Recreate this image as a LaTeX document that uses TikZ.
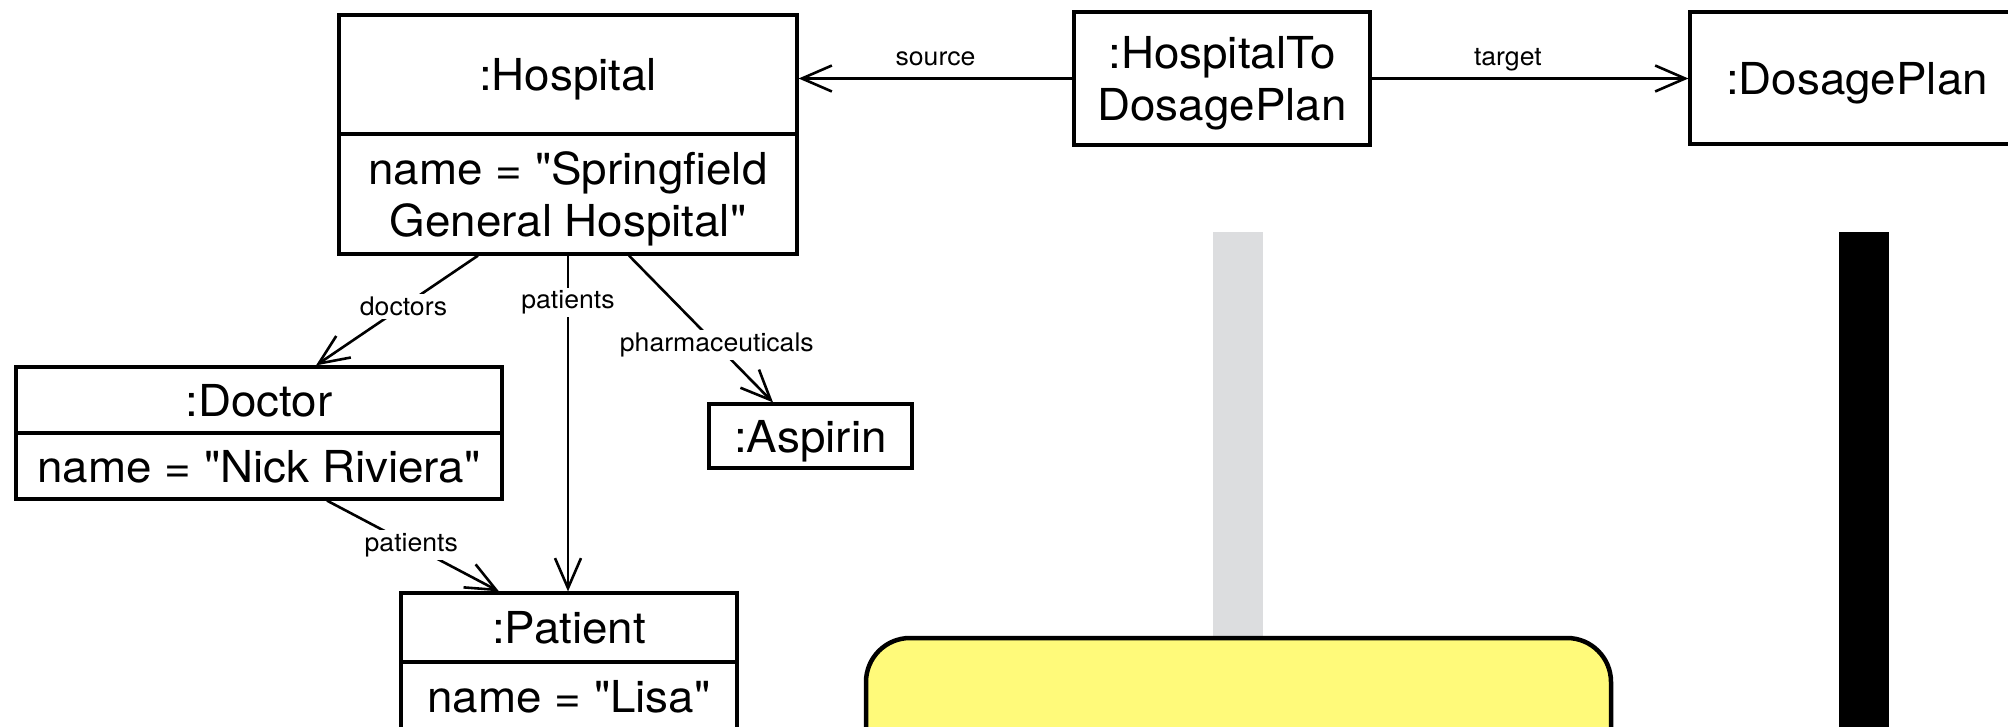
\documentclass[tikz,border=0pt]{standalone}
\usepackage{fontspec}
\setmainfont{TeX Gyre Heros}[Ligatures=TeXOff, FakeStretch=1.04]
\usetikzlibrary{arrows.meta}

\definecolor{bargray}{RGB}{220,221,223}
\definecolor{noteyellow}{RGB}{255,250,122}

\tikzset{
	objbox/.style={draw=black, line width=3.2pt, font=\fontsize{44}{52}\selectfont, align=center, inner sep=0pt, text depth=0pt},
	assoc/.style={-{Straight Barb[length=30pt,width=26pt]}, line width=2.6pt},
	rolelabel/.style={font=\fontsize{25.6}{30}\selectfont, fill=white, inner sep=3pt},
	notebox/.style={draw=black, line width=4.5pt, fill=noteyellow, rounded corners=44pt},
}

\begin{document}
\begin{tikzpicture}[x=1pt, y=-1pt]
	\useasboundingbox (0,0) rectangle (2008,727);
	
	\fill[bargray] (1213,232) rectangle (1263,700);
	\fill[black] (1839,232) rectangle (1889,760);
	\node[notebox, minimum width=745pt, minimum height=184pt] (note) at (1238.5,730) {};
	
	\node[objbox, minimum width=458pt, minimum height=119pt] (hospital) at (568,74.5) {:Hospital};
	\node[objbox, minimum width=458pt, minimum height=120pt] (hospitalname) at (568,194) {name = "Springfield\\General Hospital"};
	\node[objbox, minimum width=296pt, minimum height=133pt] (link) at (1222,78.5) {:HospitalTo\\DosagePlan};
	\node[objbox, minimum width=334pt, minimum height=132pt] (dosageplan) at (1857,78) {:DosagePlan};
	\node[objbox, minimum width=486pt, minimum height=66pt] (doctor) at (259,400) {:Doctor};
	\node[objbox, minimum width=486pt, minimum height=66pt] (doctorname) at (259,466) {name = "Nick Riviera"};
	\node[objbox, minimum width=203pt, minimum height=64pt] (aspirin) at (810.5,436) {:Aspirin};
	\node[objbox, minimum width=336pt, minimum height=69pt] (patient) at (569,627.5) {:Patient};
	\node[objbox, minimum width=336pt, minimum height=69pt] (patientname) at (569,696.5) {name = "Lisa"};
	
	\path[assoc] (link.west) edge node[rolelabel, above, fill=none, inner sep=12pt, text depth=0pt] {source} (link.west -| hospital.east);
	\path[assoc] (link.east) edge node[rolelabel, above, pos=0.43, fill=none, inner sep=12pt, text depth=0pt] {target} (link.east -| dosageplan.west);
	\path[assoc] ([xshift=-90pt]hospitalname.south) edge node[rolelabel, pos=0.46] {doctors} ([xshift=57pt]doctor.north);
	\path[assoc] (hospitalname.south) edge node[rolelabel, pos=0.14] {patients} (hospitalname.south |- patient.north);
	\path[assoc] ([xshift=61pt]hospitalname.south) edge node[rolelabel, pos=0.61] {pharmaceuticals} ([xshift=-37.5pt]aspirin.north);
	\path[assoc] ([xshift=68pt]doctorname.south) edge node[rolelabel, pos=0.49] {patients} ([xshift=-70pt]patient.north);
	
\end{tikzpicture}
\end{document}
